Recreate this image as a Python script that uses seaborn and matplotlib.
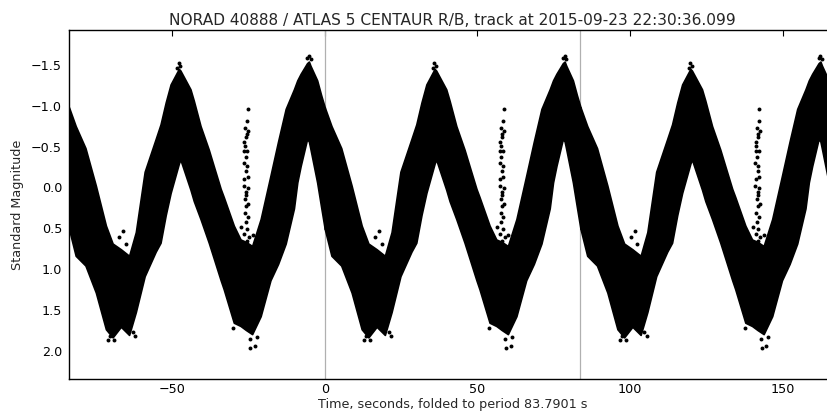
import matplotlib
matplotlib.use("Agg")
import numpy as np
import pandas as pd
import matplotlib.pyplot as plt
import seaborn as sns

# ---------------- data ----------------
PERIOD = 83.7901
FOLD_OFFSETS = [-1, 0, 1]          # folded light curve shown over three periods

# one period of the folded light curve: bright (upper) and faint (lower) edges of the dense band
phase_t = [0.0, 2.2, 5.4, 8.8, 12.1, 14.3, 17.0, 19.7, 21.9, 24.8, 28.4, 30.0,
           31.7, 33.3, 36.0, 36.5, 39.8, 40.9, 43.1, 45.8, 47.5, 49.7, 50.7,
           54.0, 56.2, 58.0, 60.0, 62.8, 66.0, 68.5, 71.0, 73.7, 74.8, 75.9,
           78.0, 78.6, 79.1, 81.3, 82.6, 83.7901]
mag_bright = [-0.97, -0.74, -0.47, -0.01, 0.48, 0.70, 0.77, 0.85, 0.56, -0.18,
              -0.58, -0.76, -1.03, -1.25, -1.44, -1.42, -1.19, -1.05, -0.74,
              -0.45, -0.24, 0.03, 0.13, 0.48, 0.65, 0.68, 0.73, 0.40, -0.13,
              -0.55, -0.95, -1.19, -1.30, -1.38, -1.51, -1.53, -1.48, -1.30,
              -1.12, -0.97]
mag_faint = [0.52, 0.85, 0.97, 1.30, 1.75, 1.85, 1.72, 1.82, 1.54, 1.10, 0.80,
             0.69, 0.35, 0.08, -0.28, -0.33, 0.04, 0.18, 0.40, 0.69, 0.89,
             1.15, 1.26, 1.67, 1.71, 1.76, 1.81, 1.59, 1.15, 0.95, 0.70, 0.27,
             -0.05, -0.25, -0.58, -0.55, -0.46, -0.05, 0.25, 0.52]

# sparse points: narrow flash near phase 58 s, plus scattered faint/bright outliers
spike_t = [58.6, 58.4, 57.8, 58.2, 57.5, 58.0, 57.4, 58.4, 57.9, 57.3, 58.3,
           58.0, 57.4, 58.5, 57.3, 58.6, 58.0, 57.7, 58.8, 58.1, 57.6, 58.5,
           57.9, 58.3, 57.5, 58.9, 58.2, 58.7, 57.6, 58.1]
spike_m = [-0.95, -0.80, -0.72, -0.64, -0.54, -0.60, -0.44, -0.44, -0.36,
           -0.29, -0.25, -0.19, -0.09, -0.12, -0.01, 0.02, 0.07, 0.16, 0.22,
           0.24, 0.32, 0.38, 0.44, 0.52, 0.58, 0.62, 0.67, -0.68, -0.50, 0.10]
extra_t = [12.9, 14.8, 13.6, 21.7, 20.9, 59.3, 60.9, 59.2, 53.8, 61.5, 35.9,
           36.4, 35.4, 78.6, 78.1, 79.2, 16.5, 18.6, 17.8, 56.5, 60.2]
extra_m = [1.88, 1.88, 1.83, 1.83, 1.78, 1.98, 1.96, 1.87, 1.73, 1.84, -1.51,
           -1.48, -1.45, -1.60, -1.57, -1.56, 0.62, 0.70, 0.55, 0.50, 0.60]

xticks = [-50, 0, 50, 100, 150]
yticks = [-1.5, -1.0, -0.5, 0.0, 0.5, 1.0, 1.5, 2.0]
title = "NORAD 40888 / ATLAS 5 CENTAUR R/B, track at 2015-09-23 22:30:36.099"
xlabel = "Time, seconds, folded to period 83.7901 s"
ylabel = "Standard Magnitude"

# ---------------- plot ----------------
sns.set_style("white")
plt.rcParams["font.family"] = ["DejaVu Sans"]

fig = plt.figure(figsize=(8.27, 4.14), dpi=100)
ax = fig.add_axes([0.0834, 0.0821, 0.9278, 0.8437])

pt = np.array(phase_t)
for k in FOLD_OFFSETS:
    ax.fill_between(pt + k * PERIOD, mag_bright, mag_faint,
                    facecolor="black", edgecolor="black", linewidth=1.2, zorder=2)

dots = pd.DataFrame({
    "t": np.concatenate([np.array(spike_t + extra_t) + k * PERIOD for k in FOLD_OFFSETS]),
    "m": np.concatenate([np.array(spike_m + extra_m) for k in FOLD_OFFSETS]),
})
sns.scatterplot(data=dots, x="t", y="m", ax=ax, color="black", s=8,
                linewidth=0, zorder=3, legend=False)

ax.axvline(0, color="#b0b0b0", lw=0.9, zorder=1)
ax.axvline(PERIOD, color="#b0b0b0", lw=0.9, zorder=1)

ax.set_xlim(-PERIOD, 2 * PERIOD)
ax.set_ylim(2.36, -1.92)
ax.set_xticks(xticks)
ax.set_yticks(yticks)
ax.set_xticklabels([f"{v:d}".replace("-", "\u2212") for v in xticks])
ax.set_yticklabels([f"{v:.1f}".replace("-", "\u2212") for v in yticks])
ax.tick_params(direction="in", top=True, right=True, length=4, width=0.8,
               labelsize=9.2, colors="black")
ax.tick_params(axis="x", pad=2.5)
ax.tick_params(axis="y", pad=5)
for s in ax.spines.values():
    s.set_color("black")
    s.set_linewidth(1.0)

ax.set_xlabel(xlabel, fontsize=9.2, labelpad=1)
ax.set_ylabel(ylabel, fontsize=9.2, labelpad=5)
ax.set_title(title, fontsize=11.1, pad=4)

fig.savefig("out.png", dpi=100)
